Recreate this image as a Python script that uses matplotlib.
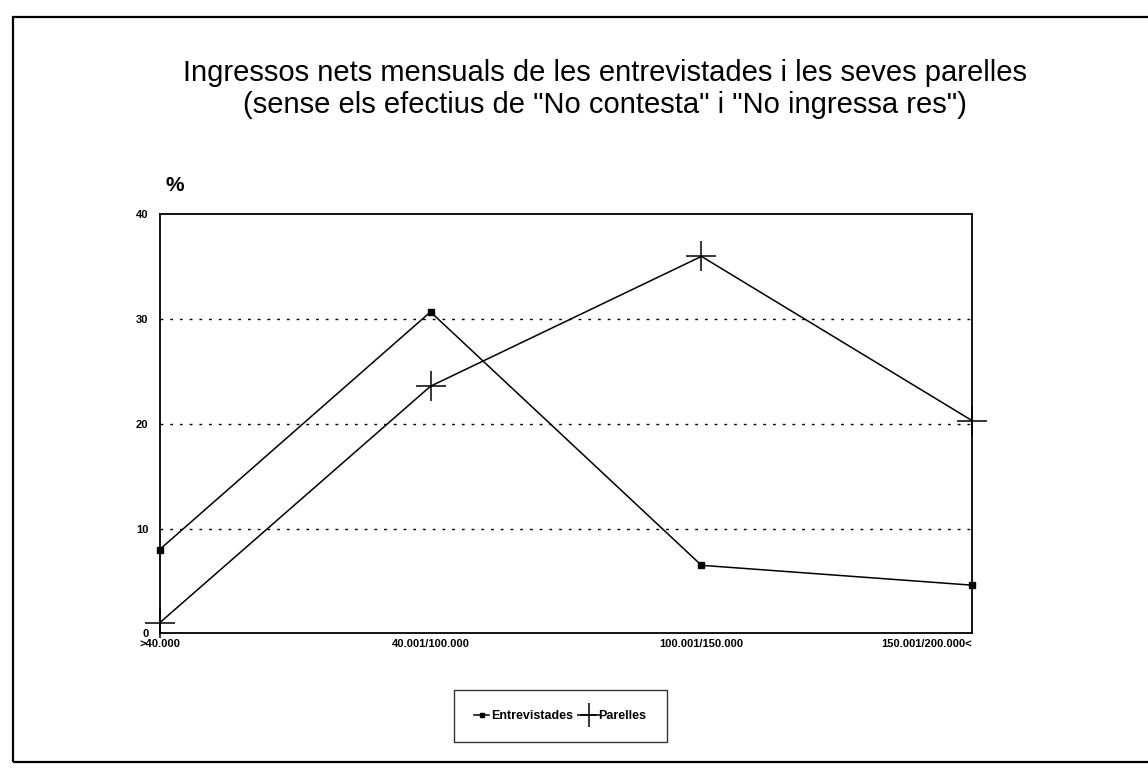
import matplotlib.pyplot as plt
from matplotlib.patches import Rectangle

# Data
categories = ['>40.000', '40.001/100.000', '100.001/150.000', '150.001/200.000<']
entrevistades = [8, 30.7, 6.5, 4.6]
parelles = [1, 23.6, 36, 20.3]
y_ticks = [0, 10, 20, 30, 40]

plt.rcParams['font.family'] = ['Liberation Sans', 'DejaVu Sans']

fig = plt.figure(figsize=(11.48, 7.8), dpi=100)

# Outer frame of the page
fig.patches.append(Rectangle((0.011, 0.023), 1.2, 0.955, transform=fig.transFigure,
                             fill=False, edgecolor='black', linewidth=1.6))

# Title
fig.text(0.527, 0.907, 'Ingressos nets mensuals de les entrevistades i les seves parelles',
         ha='center', va='center', fontsize=21)
fig.text(0.527, 0.866, '(sense els efectius de "No contesta" i "No ingressa res")',
         ha='center', va='center', fontsize=21)

ax = fig.add_axes([0.139, 0.188, 0.708, 0.537])
x = list(range(len(categories)))

ax.plot(x, entrevistades, color='black', linewidth=1.1, marker='s', markersize=4,
        label='Entrevistades', clip_on=False)
ax.plot(x, parelles, color='black', linewidth=1.1, marker='+', markersize=22,
        markeredgewidth=1.1, label='Parelles', clip_on=False)

ax.set_xlim(0, len(categories) - 1)
ax.set_ylim(0, 40)

for v in y_ticks[1:-1]:
    ax.axhline(v, color='black', linewidth=1, linestyle=(0, (2, 5)), zorder=0)

ax.set_yticks(y_ticks)
ax.set_yticklabels([str(v) for v in y_ticks], fontsize=8, fontweight='bold')
ax.tick_params(axis='y', length=0, pad=8)

ax.set_xticks(x)
ax.set_xticklabels(categories, fontsize=8, fontweight='bold')
ax.tick_params(axis='x', length=0, pad=4)
labels = ax.get_xticklabels()
labels[-1].set_ha('right')

for s in ['left', 'right', 'bottom', 'top']:
    ax.spines[s].set_linewidth(1.3)

ax.text(0.007, 1.07, '%', transform=ax.transAxes, fontsize=15, fontweight='bold',
        ha='left', va='center')

ax.legend(loc='upper center', bbox_to_anchor=(0.493, -0.135), ncol=2, frameon=True,
          fancybox=False, edgecolor='black', handlelength=1.2, handletextpad=0.2,
          columnspacing=0.6, borderpad=1.6, borderaxespad=0, markerscale=0.8,
          prop={'size': 9, 'weight': 'bold'})

fig.savefig('out.png', dpi=100)
